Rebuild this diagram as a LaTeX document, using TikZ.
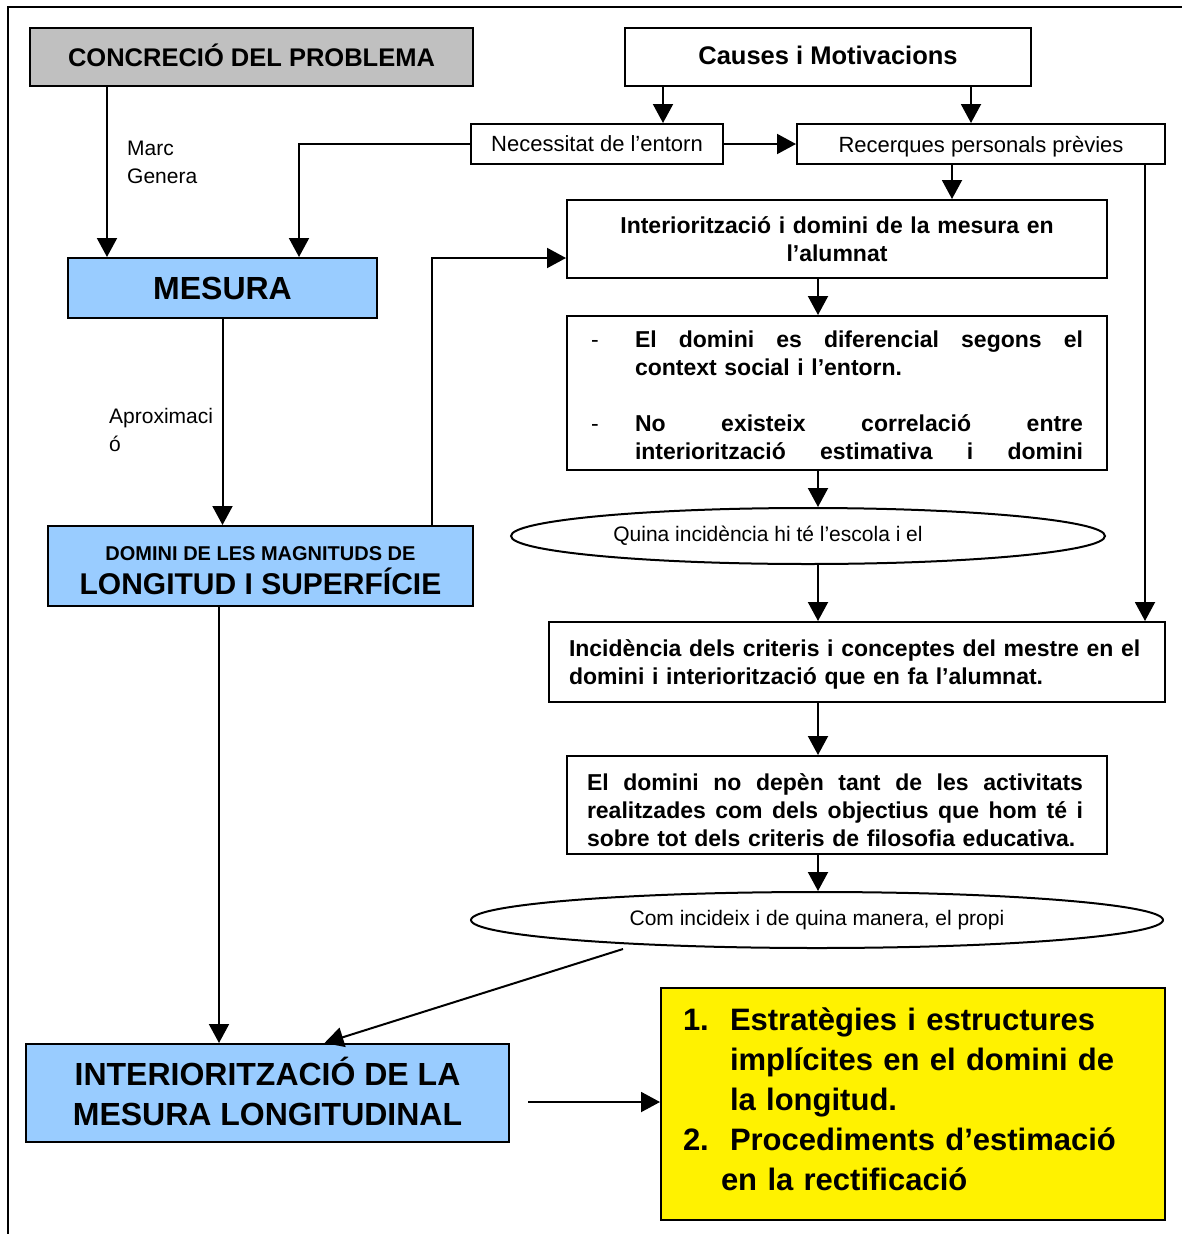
\documentclass[tikz,border=0pt]{standalone}
\usepackage{fontspec}
\setmainfont{Liberation Sans}
\usepackage{tikz}
\usetikzlibrary{arrows.meta,positioning,shapes.geometric}
\definecolor{skyblue}{HTML}{99CCFF}
\definecolor{greybg}{HTML}{C0C0C0}
\newcommand{\spreadline}[2]{\makebox[#1][s]{\spaceskip=\fontdimen2\font plus 1fil\relax #2}}

\begin{document}
\begin{tikzpicture}[
    x=1pt, y=-1pt,
    base/.style={
        rectangle,
        draw=black,
        line width=2pt,
        inner sep=0pt,
        align=center
    },
    headbox/.style={
        base,
        font=\fontsize{25.5}{30}\selectfont\bfseries
    },
    smallbox/.style={
        base,
        text depth=0pt,
        font=\fontsize{22}{26}\selectfont
    },
    textbox/.style={
        base,
        align=left,
        font=\fontsize{23}{28}\selectfont\bfseries
    },
    bluebox/.style={
        base,
        fill=skyblue
    },
    question/.style={
        ellipse,
        draw=black,
        line width=2pt,
        inner sep=0pt,
        font=\fontsize{21}{26}\selectfont
    },
    edgelabel/.style={
        align=left,
        inner sep=0pt,
        font=\fontsize{21}{28}\selectfont
    },
    flowarrow/.style={line width=2pt,-{Triangle[length=19pt,width=20pt]}}
]
\useasboundingbox (0,0) rectangle (1182,1234);
\draw [line width=2pt] (8,1234) -- (8,7) -- (1182,7);

\node (concr) [headbox, fill=greybg, minimum width=443, minimum height=58] at (251.5,57) {CONCRECIÓ DEL PROBLEMA\rule[-4pt]{0pt}{0pt}};
\node (causes) [headbox, minimum width=406, minimum height=58] at (828,57) {Causes i Motivacions\rule[-4pt]{0pt}{0pt}};
\node (necess) [smallbox, minimum width=252, minimum height=40] at (597,144) {Necessitat de l’entorn};
\node (recerq) [smallbox, minimum width=368, minimum height=40] at (981,144) {Recerques personals prèvies};
\node (mesura) [bluebox, font=\fontsize{32}{38}\selectfont\bfseries, minimum width=309, minimum height=60] at (222.5,288) {MESURA};
\node (interior) [textbox, align=center, text width=520, minimum width=540, minimum height=78] at (837,239) {Interiorització i domini de la mesura en\\l’alumnat};
\node (criteris) [textbox, text width=492, minimum width=540, minimum height=154] at (837,393) {\rule{0pt}{22pt}\makebox[44pt][l]{\mdseries -}\spreadline{448pt}{El domini es diferencial segons el}\\\hspace*{44pt}context social i l’entorn.\\[28pt]\makebox[44pt][l]{\mdseries -}\spreadline{448pt}{No existeix correlació entre}\\\hspace*{44pt}\spreadline{448pt}{interiorització estimativa i domini}};
\node (quina) [question, minimum width=594, minimum height=56] at (808,536) {Quina incidència hi té l’escola i el\hspace*{80pt}};
\node (incid) [textbox, text width=576, minimum width=616, minimum height=80] at (857,662) {\rule{0pt}{21pt}Incidència dels criteris i conceptes del mestre en el\\domini i interiorització que en fa l’alumnat.};
\node (depen) [textbox, text width=500, minimum width=540, minimum height=98] at (837,805) {\rule{0pt}{27pt}\spreadline{496pt}{El domini no depèn tant de les activitats}\\\spreadline{496pt}{realitzades com dels objectius que hom té i}\\sobre tot dels criteris de filosofia educativa.};
\node (propi) [question, minimum width=692, minimum height=56] at (817,920) {Com incideix i de quina manera, el propi};
\node (magnit) [bluebox, font=\fontsize{30}{34}\selectfont\bfseries, minimum width=425, minimum height=80] at (260.5,566) {{\fontsize{20}{24}\selectfont\rule{0pt}{23pt}DOMINI DE LES MAGNITUDS DE}\\LONGITUD I SUPERFÍCIE};
\node (intlong) [bluebox, font=\fontsize{32}{40}\selectfont\bfseries, minimum width=483, minimum height=98] at (267.5,1093) {INTERIORITZACIÓ DE LA\\MESURA LONGITUDINAL\rule[-4pt]{0pt}{0pt}};
\node (result) [textbox, fill=yellow, font=\fontsize{31}{40}\selectfont\bfseries, text width=460, minimum width=504, minimum height=232] at (913,1104) {\makebox[47pt][l]{1.}Estratègies i estructures\\\hspace*{47pt}implícites en el domini de\\\hspace*{47pt}la longitud.\\\makebox[47pt][l]{2.}Procediments d’estimació\\\hspace*{38pt}en la rectificació\rule[-10pt]{0pt}{0pt}};
\node (marc) [edgelabel, anchor=west] at (127,162) {Marc\\Genera};
\node (aprox) [edgelabel, anchor=west] at (109,430) {Aproximaci\\ó};

\coordinate (mA) at ([xshift=-115.5]mesura.north);
\coordinate (mB) at ([xshift=76.5]mesura.north);
\coordinate (nA) at ([xshift=66]necess.north);
\coordinate (rA) at ([xshift=-10]recerq.north);
\coordinate (iA) at ([xshift=115]interior.north);
\coordinate (iB) at ([yshift=-19]interior.west);
\coordinate (cA) at ([xshift=288]incid.north);
\coordinate (gA) at ([xshift=171.5]magnit.north);
\coordinate (gB) at ([xshift=-41.5]magnit.south);
\coordinate (spine) at ([xshift=-19]interior.south);
\coordinate (pA) at ([xshift=-194]propi.south);
\coordinate (lA) at ([xshift=18]intlong.east);
\coordinate (lB) at ([xshift=57]intlong.north);
\coordinate (rB) at ([yshift=2]result.west);

\draw [flowarrow] (concr.south -| mA) -- (mA);
\draw [flowarrow] (necess.west) -| (mB);
\draw [flowarrow] (causes.south -| nA) -- (nA);
\draw [flowarrow] (causes.south -| rA) -- (rA);
\draw [flowarrow] (necess.east) -- (recerq.west);
\draw [flowarrow] (recerq.south -| iA) -- (iA);
\draw [flowarrow] (recerq.south -| cA) -- (cA);
\draw [flowarrow] (mesura.south) -- (mesura.south |- magnit.north);
\draw [flowarrow] (gA) |- (iB);
\draw [flowarrow] (interior.south -| spine) -- (criteris.north -| spine);
\draw [flowarrow] (criteris.south -| spine) -- (quina.north -| spine);
\draw [flowarrow] (quina.south -| spine) -- (incid.north -| spine);
\draw [flowarrow] (incid.south -| spine) -- (depen.north -| spine);
\draw [flowarrow] (depen.south -| spine) -- (propi.north -| spine);
\draw [flowarrow] (pA) -- (lB);
\draw [flowarrow] (gB) -- (gB |- intlong.north);
\draw [flowarrow] (lA |- rB) -- (rB);
\end{tikzpicture}
\end{document}
